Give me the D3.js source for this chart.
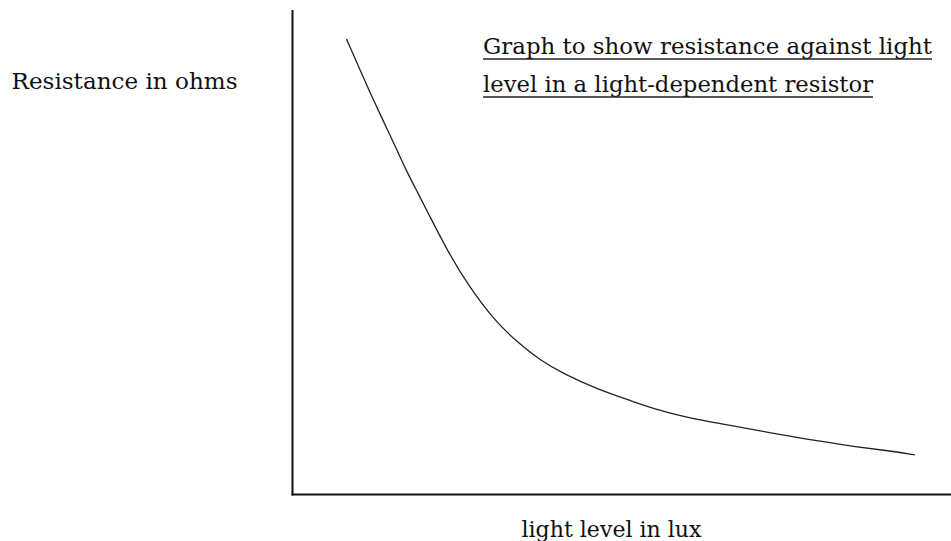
<!DOCTYPE html>
<html>
<head>
<meta charset="utf-8">
<script src="https://cdnjs.cloudflare.com/ajax/libs/d3/7.8.5/d3.min.js"></script>
<style>
  body { margin: 0; background: #fff; }
  svg { display: block; }
  .lbl { font-family: 'DejaVu Serif', 'Liberation Serif', serif; font-size: 23px; fill: #111; }
  .axis-line { stroke: #111; stroke-width: 2; }
  .curve { fill: none; stroke: #222; stroke-width: 1.3; }
  .uline { stroke: #222; stroke-width: 1.6; }
</style>
</head>
<body>
<svg id="chart" width="951" height="541"></svg>
<script>
  // light level (arbitrary units, no ticks on the original)
  var lightLevel = [8.2, 10.3, 11.8, 13.4, 15.9, 17.3, 18.9, 20.9, 23.5, 26.5,
                    30.6, 34.1, 37.6, 41.2, 46.2, 51.3, 54.8, 59.9, 65.0, 70.0,
                    75.1, 80.1, 85.2, 90.2, 94.5];
  // resistance (arbitrary units)
  var resistance = [94.0, 87.5, 82.9, 78.2, 71.0, 66.8, 62.6, 57.3, 50.4, 43.5,
                    36.0, 31.5, 27.7, 24.9, 21.8, 19.4, 17.7, 15.9, 14.6, 13.4,
                    12.1, 11.0, 9.9, 9.1, 8.2];

  var Title_ = ["Graph to show resistance against light",
                "level in a light-dependent resistor"];
  var YLabel_ = "Resistance in ohms";
  var XLabel_ = "light level in lux";

  var svg = d3.select("#chart");

  var x = d3.scaleLinear().domain([0, 100]).range([292.5, 951]);
  var y = d3.scaleLinear().domain([0, 100]).range([494.5, 10]);

  var pts = lightLevel.map(function(v, i) { return {x: v, y: resistance[i]}; });

  // axes: plain lines, no ticks
  svg.append("line")
    .attr("class", "axis-line")
    .attr("x1", x(0)).attr("x2", x(0))
    .attr("y1", y(100)).attr("y2", y(0) + 1);
  svg.append("line")
    .attr("class", "axis-line")
    .attr("x1", x(0) - 1).attr("x2", x(100))
    .attr("y1", y(0)).attr("y2", y(0));

  var line = d3.line()
    .x(function(d) { return x(d.x); })
    .y(function(d) { return y(d.y); })
    .curve(d3.curveBasis);

  svg.append("path")
    .datum(pts)
    .attr("class", "curve")
    .attr("d", line);

  // labels
  svg.append("text")
    .attr("class", "lbl")
    .attr("x", 11.5).attr("y", 89)
    .attr("textLength", 226).attr("lengthAdjust", "spacingAndGlyphs")
    .text(YLabel_);

  svg.append("text")
    .attr("class", "lbl")
    .attr("x", 521.5).attr("y", 536.5)
    .attr("textLength", 180).attr("lengthAdjust", "spacingAndGlyphs")
    .text(XLabel_);

  var tw = [449, 390];
  var tb = [53.5, 91.5];
  var tg = svg.selectAll(".title")
    .data(Title_)
    .enter().append("g")
    .attr("class", "title");
  tg.append("text")
    .attr("class", "lbl")
    .attr("x", 483)
    .attr("y", function(d, i) { return tb[i]; })
    .attr("textLength", function(d, i) { return tw[i]; })
    .attr("lengthAdjust", "spacingAndGlyphs")
    .text(function(d) { return d; });
  tg.append("line")
    .attr("class", "uline")
    .attr("x1", 483)
    .attr("x2", function(d, i) { return 483 + tw[i]; })
    .attr("y1", function(d, i) { return tb[i] + 5.5; })
    .attr("y2", function(d, i) { return tb[i] + 5.5; });
</script>
</body>
</html>
